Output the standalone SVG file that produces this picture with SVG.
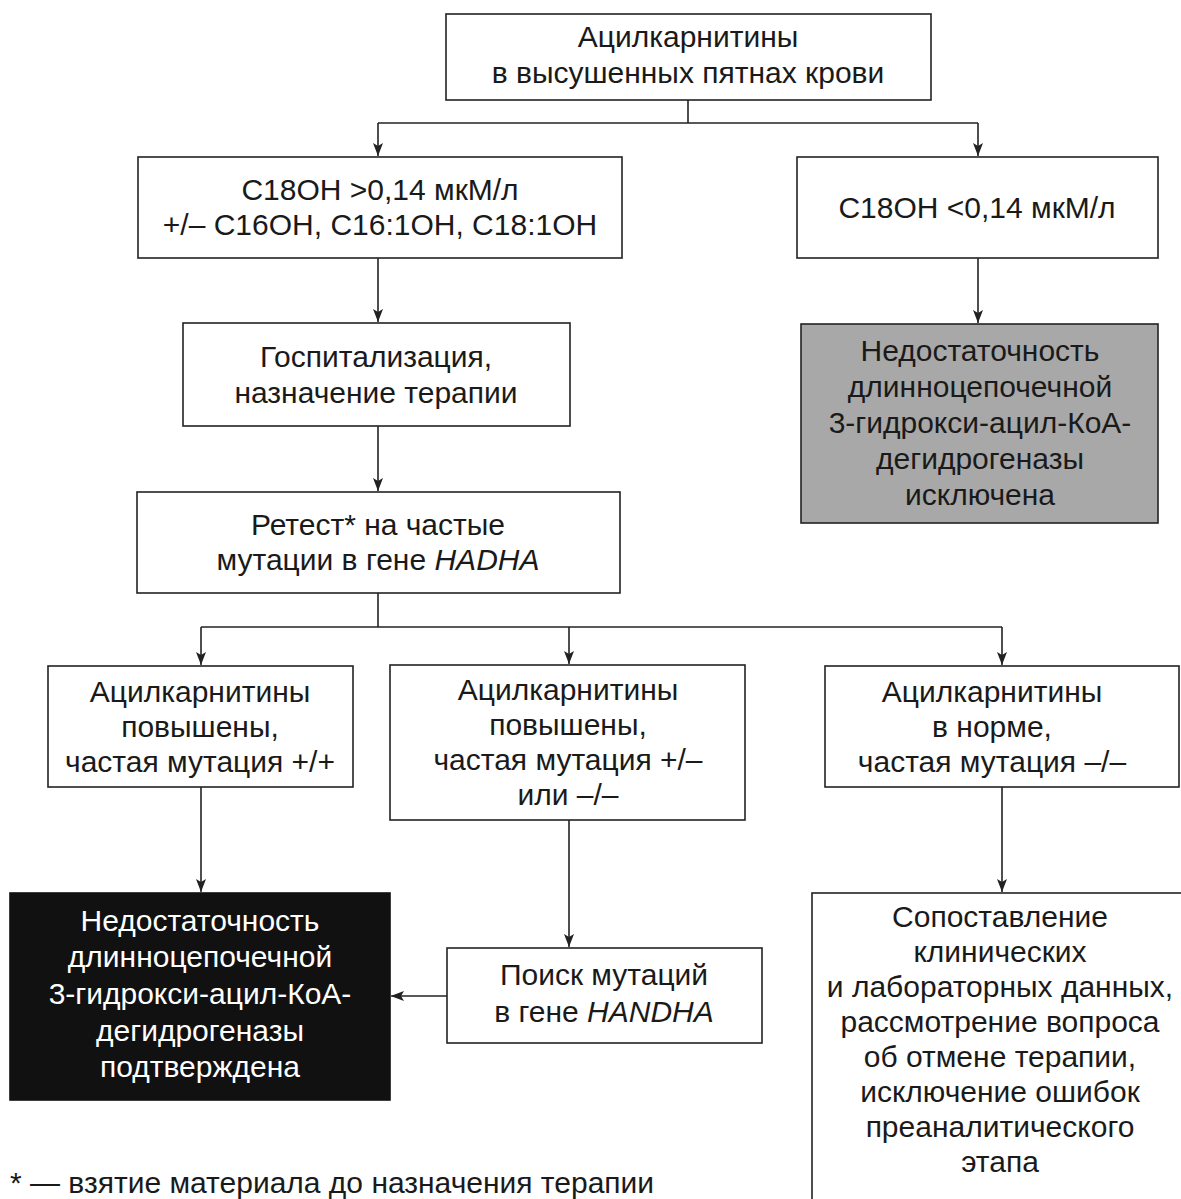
<svg xmlns="http://www.w3.org/2000/svg" width="1181" height="1199" viewBox="0 0 1181 1199">
<style>
.b{fill:#fff;stroke:#222;stroke-width:1.6}
.g{fill:#a8a8a8;stroke:#222;stroke-width:1.6}
.k{fill:#111;stroke:#111;stroke-width:1.6}
text{font-family:"Liberation Sans",Arial,sans-serif;font-size:30px;fill:#1a1a1a;text-anchor:middle}
.w{fill:#fff}
.c{fill:none;stroke:#222;stroke-width:1.6}
</style>
<defs>
<marker id="a" markerWidth="12" markerHeight="14" refX="13" refY="6" orient="auto" markerUnits="userSpaceOnUse">
<path d="M0,1 L13,6 L0,11 L3,6 Z" fill="#222"/>
</marker>
</defs>
<rect width="1181" height="1199" fill="#fff"/>
<g id="connectors">
<path class="c" d="M688,100 V123"/>
<path class="c" d="M378,123 H978"/>
<path class="c" d="M378,123 V156" marker-end="url(#a)"/>
<path class="c" d="M978,123 V156" marker-end="url(#a)"/>
<path class="c" d="M378,258 V322" marker-end="url(#a)"/>
<path class="c" d="M978,258 V323" marker-end="url(#a)"/>
<path class="c" d="M378,426 V491" marker-end="url(#a)"/>
<path class="c" d="M378,593 V627"/>
<path class="c" d="M201,627 H1002"/>
<path class="c" d="M201,627 V665" marker-end="url(#a)"/>
<path class="c" d="M569,627 V664" marker-end="url(#a)"/>
<path class="c" d="M1002,627 V665" marker-end="url(#a)"/>
<path class="c" d="M201,787 V892" marker-end="url(#a)"/>
<path class="c" d="M569,820 V947" marker-end="url(#a)"/>
<path class="c" d="M1002,787 V892" marker-end="url(#a)"/>
<path class="c" d="M447,996 H391" marker-end="url(#a)"/>
</g>
<g id="n1"><rect class="b" x="446" y="14" width="485" height="86"/>
<text x="688" y="47">Ацилкарнитины</text><text x="688" y="83">в высушенных пятнах крови</text></g>
<g id="n2"><rect class="b" x="138" y="157" width="484" height="101"/>
<text x="380" y="200">С18ОН &gt;0,14 мкМ/л</text><text x="380" y="235">+/– С16ОН, С16:1ОН, С18:1ОН</text></g>
<g id="n3"><rect class="b" x="797" y="157" width="361" height="101"/>
<text x="977" y="218">С18ОН &lt;0,14 мкМ/л</text></g>
<g id="n4"><rect class="g" x="801" y="324" width="357" height="199"/>
<text x="980" y="361">Недостаточность</text><text x="980" y="397">длинноцепочечной</text><text x="980" y="433">3-гидрокси-ацил-КоА-</text><text x="980" y="469">дегидрогеназы</text><text x="980" y="505">исключена</text></g>
<g id="n5"><rect class="b" x="183" y="323" width="387" height="103"/>
<text x="376" y="367">Госпитализация,</text><text x="376" y="403">назначение терапии</text></g>
<g id="n6"><rect class="b" x="137" y="492" width="483" height="101"/>
<text x="378" y="535">Ретест* на частые</text><text x="378" y="570">мутации в гене <tspan font-style="italic">HADHA</tspan></text></g>
<g id="n7"><rect class="b" x="48" y="666" width="305" height="121"/>
<text x="200" y="702">Ацилкарнитины</text><text x="200" y="737">повышены,</text><text x="200" y="772">частая мутация +/+</text></g>
<g id="n8"><rect class="b" x="390" y="665" width="355" height="155"/>
<text x="568" y="700">Ацилкарнитины</text><text x="568" y="735">повышены,</text><text x="568" y="770">частая мутация +/–</text><text x="568" y="805">или –/–</text></g>
<g id="n9"><rect class="b" x="825" y="666" width="354" height="121"/>
<text x="992" y="702">Ацилкарнитины</text><text x="992" y="737">в норме,</text><text x="992" y="772">частая мутация –/–</text></g>
<g id="n10"><rect class="k" x="10" y="893" width="380" height="207"/>
<text class="w" x="200" y="931">Недостаточность</text><text class="w" x="200" y="967">длинноцепочечной</text><text class="w" x="200" y="1004">3-гидрокси-ацил-КоА-</text><text class="w" x="200" y="1041">дегидрогеназы</text><text class="w" x="200" y="1077">подтверждена</text></g>
<g id="n11"><rect class="b" x="447" y="948" width="315" height="95"/>
<text x="604" y="985">Поиск мутаций</text><text x="604" y="1022">в гене <tspan font-style="italic">HANDHA</tspan></text></g>
<g id="n12"><rect class="b" x="812" y="893" width="380" height="320"/>
<text x="1000" y="927">Сопоставление</text><text x="1000" y="962">клинических</text><text x="1000" y="997">и лабораторных данных,</text><text x="1000" y="1032">рассмотрение вопроса</text><text x="1000" y="1067">об отмене терапии,</text><text x="1000" y="1102">исключение ошибок</text><text x="1000" y="1137">преаналитического</text><text x="1000" y="1172">этапа</text></g>
<text x="10" y="1193" style="text-anchor:start">* — взятие материала до назначения терапии</text>
</svg>
